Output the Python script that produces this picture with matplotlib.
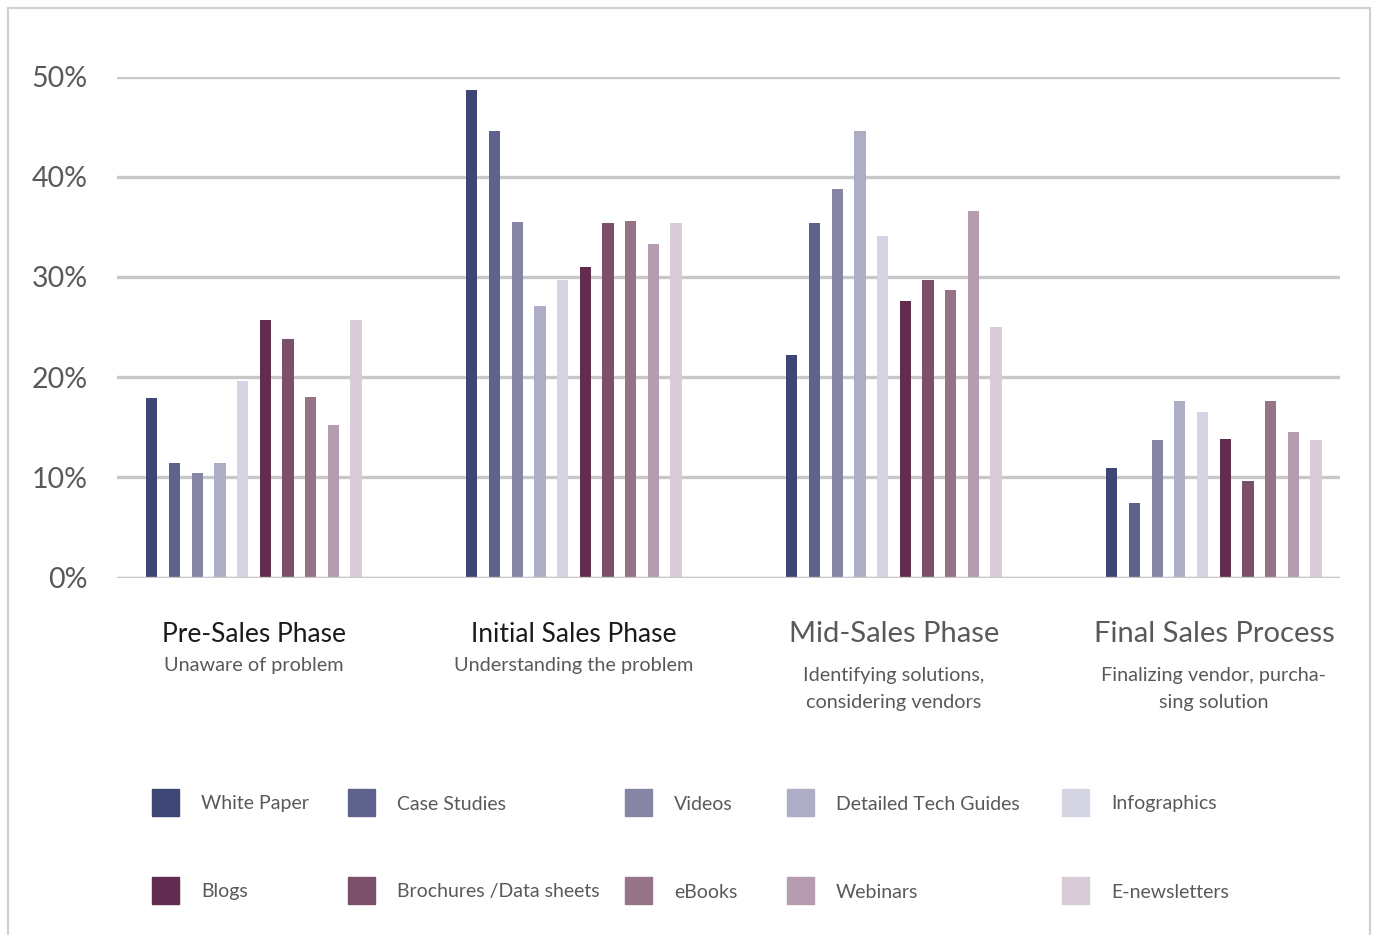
import matplotlib.pyplot as plt
from matplotlib.patches import Rectangle
import numpy as np

plt.rcParams['font.family'] = ['Lato', 'DejaVu Sans']

# Data (percent)
phases = ['Pre-Sales Phase', 'Initial Sales Phase', 'Mid-Sales Phase', 'Final Sales Process']
subtitles = ['Unaware of problem', 'Understanding the problem',
             'Identifying solutions,\nconsidering vendors',
             'Finalizing vendor, purcha-\nsing solution']
series = ['White Paper', 'Case Studies', 'Videos', 'Detailed Tech Guides', 'Infographics',
          'Blogs', 'Brochures /Data sheets', 'eBooks', 'Webinars', 'E-newsletters']
white_paper = [17.9, 48.7, 22.2, 10.9]
case_studies = [11.4, 44.6, 35.4, 7.4]
videos = [10.4, 35.5, 38.8, 13.7]
tech_guides = [11.4, 27.1, 44.6, 17.6]
infographics = [19.6, 29.7, 34.1, 16.5]
blogs = [25.7, 31.0, 27.6, 13.8]
brochures = [23.8, 35.4, 29.7, 9.6]
ebooks = [18.0, 35.6, 28.7, 17.6]
webinars = [15.2, 33.3, 36.6, 14.5]
enewsletters = [25.7, 35.4, 25.0, 13.7]
values = [white_paper, case_studies, videos, tech_guides, infographics,
          blogs, brochures, ebooks, webinars, enewsletters]
colors = ['#3d4674', '#5f628d', '#8585a6', '#aeadc6', '#d5d4e2',
          '#622c51', '#7b506b', '#967488', '#b59caf', '#d8ccd6']

fig = plt.figure(figsize=(13.75, 9.35), dpi=100)
ax = fig.add_axes([117 / 1375, 1 - 577.5 / 935, 1223 / 1375, 501 / 935])

x = np.arange(len(phases))
step = 0.0709
width = 0.035
for i, (vals, c) in enumerate(zip(values, colors)):
    ax.bar(x + (i - 4.5) * step, vals, width=width, color=c, zorder=3)

ax.set_xlim(-0.428, 3.394)
ax.set_ylim(0, 50)
ax.set_yticks([0, 10, 20, 30, 40, 50])
ax.set_yticklabels(['0%', '10%', '20%', '30%', '40%', '50%'])
ax.tick_params(axis='y', length=0, pad=21, labelsize=20.5, labelcolor='#595959')
ax.set_xticks([])
ax.grid(axis='y', color='#c8c8c8', linewidth=2.4, zorder=0)
for s in ax.spines.values():
    s.set_visible(False)
ax.axhline(0, color='#c8c8c8', linewidth=2.4, zorder=4)
ax.patch.set_alpha(0)

# category labels under the groups
for i in range(len(phases)):
    xf = (117 + (x[i] + 0.428) * 320) / 1375
    dark = i < 2
    ax_col = '#1a1a1a' if dark else '#595959'
    fig.text(xf, 1 - 634 / 935, phases[i], ha='center', va='center',
             fontsize=19 if dark else 21, color=ax_col)
    sy = 665 if dark else 689
    fig.text(xf, 1 - sy / 935, subtitles[i], ha='center', va='center',
             fontsize=14.3, color='#595959', linespacing=1.65)

# legend
sq_x = [152, 348, 625, 787, 1062]
row_y = [802, 890]
for i, (name, c) in enumerate(zip(series, colors)):
    col = i % 5
    row = i // 5
    fig.patches.append(Rectangle((sq_x[col] / 1375, 1 - (row_y[row] + 13.5) / 935),
                                 27 / 1375, 27 / 935, transform=fig.transFigure,
                                 color=c, figure=fig))
    fig.text((sq_x[col] + 49) / 1375, 1 - (row_y[row] + 2) / 935, name,
             ha='left', va='center', fontsize=14, color='#595959')

# outer frame
fig.patches.append(Rectangle((8 / 1375, -0.01), 1362 / 1375, 1 - 8 / 935 + 0.01,
                             transform=fig.transFigure, fill=False,
                             edgecolor='#d0d0d0', linewidth=1.5, figure=fig))

plt.savefig('out.png', dpi=100)
